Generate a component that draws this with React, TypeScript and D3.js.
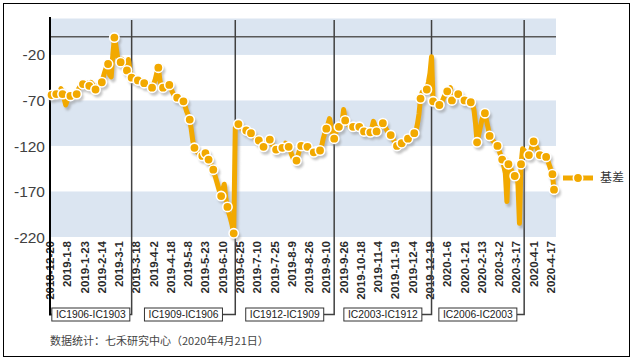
import React from 'react';
import * as d3 from 'd3';

// tick labels shown on the category axis (every 11th trading day)
const tickDates = [
  '2018-12-20', '2019-1-8', '2019-1-23', '2019-2-14', '2019-3-1', '2019-3-18',
  '2019-4-2', '2019-4-18', '2019-5-8', '2019-5-23', '2019-6-10', '2019-6-25',
  '2019-7-10', '2019-7-25', '2019-8-9', '2019-8-26', '2019-9-10', '2019-9-26',
  '2019-10-18', '2019-11-4', '2019-11-19', '2019-12-4', '2019-12-19', '2020-1-6',
  '2020-1-21', '2020-2-13', '2020-3-2', '2020-3-17', '2020-4-1', '2020-4-17'
];
const tickEvery = 11;
const yTicks = [-220, -170, -120, -70, -20];
const yMax = 20;

const contracts = ['IC1906-IC1903', 'IC1909-IC1906', 'IC1912-IC1909', 'IC2003-IC1912', 'IC2006-IC2003'];
// trading-day index where each contract rolls over
const rollDays = [52, 118, 181, 243, 302];

// 基差, one value per trading day (2018-12-20 .. 2020-4-21)
const basis = [
  -63, -64, -62, -64, -63, -61, -62, -57, -63, -68,
  -75, -70, -64, -65, -63, -64, -64, -63, -58, -55,
  -53, -52, -55, -54, -51, -54, -50, -52, -55, -58,
  -56, -53, -51, -50, -44, -38, -33, -30, -42, -44,
  -20, -1, -10, -22, -26, -28, -25, -32, -35, -37,
  -25, -38, -45, -46, -47, -48, -48, -48, -49, -50,
  -51, -50, -52, -54, -55, -56, -52, -47, -40, -34,
  -48, -55, -56, -54, -52, -53, -53, -57, -61, -64,
  -66, -67, -69, -70, -70, -71, -76, -82, -86, -91,
  -102, -115, -122, -125, -127, -128, -130, -131, -128, -128,
  -132, -135, -138, -142, -146, -152, -158, -164, -170, -175,
  -168, -162, -178, -187, -194, -200, -207, -216, -100, -96,
  -96, -99, -101, -102, -104, -103, -104, -105, -106, -108,
  -110, -112, -113, -114, -116, -118, -121, -119, -116, -114,
  -113, -116, -120, -122, -124, -123, -122, -121, -122, -120,
  -117, -119, -121, -125, -130, -134, -135, -136, -130, -124,
  -120, -121, -122, -120, -121, -123, -125, -126, -127, -127,
  -126, -125, -125, -120, -112, -106, -101, -96, -90, -98,
  -106, -112, -106, -100, -99, -99, -94, -80, -92, -95,
  -97, -98, -99, -99, -98, -99, -100, -99, -100, -102,
  -104, -104, -104, -105, -105, -100, -93, -98, -104, -102,
  -99, -97, -95, -98, -101, -104, -106, -108, -111, -114,
  -117, -120, -119, -118, -117, -116, -114, -113, -112, -111,
  -109, -108, -106, -104, -96, -85, -68, -61, -60, -59,
  -58, -50, -40, -22, -71, -72, -72, -73, -75, -75,
  -70, -66, -63, -60, -58, -56, -70, -68, -65, -64,
  -63, -65, -67, -69, -70, -71, -71, -72, -72, -74,
  -80, -95, -116, -108, -100, -92, -86, -84, -92, -100,
  -109, -112, -114, -116, -118, -120, -125, -130, -135, -142,
  -150, -181, -140, -143, -147, -150, -153, -156, -160, -205,
  -140, -123, -125, -127, -129, -130, -126, -120, -115, -118,
  -122, -126, -130, -131, -131, -132, -132, -136, -141, -146,
  -151, -168
];

// days that carry a marker
const markerDays = [
  1, 4, 8, 13, 17, 21, 25, 29, 33, 37, 41, 45, 49, 52, 56, 60, 65, 69, 72, 76,
  81, 85, 89, 92, 97, 99, 101, 104, 109, 113, 117, 120, 125, 128, 133, 136, 140,
  144, 148, 152, 157, 160, 164, 168, 172, 176, 181, 184, 188, 193, 197, 200, 204,
  208, 212, 217, 221, 224, 228, 232, 236, 240, 244, 248, 253, 256, 260, 264, 268,
  272, 277, 280, 285, 288, 292, 296, 300, 305, 308, 312, 316, 320, 321
];

const seriesName = '基差';
const footer = '数据统计：七禾研究中心（2020年4月21日）';

const ORANGE = '#F2A900';
const BAND = '#DBE5F1';

const App = () => {
  const left = 50, right = 556, top = 18.5, bottom = 237;
  const x = d3.scaleLinear().domain([0, basis.length - 1]).range([left, 554]);
  const y = d3.scaleLinear().domain([yTicks[0], yMax]).range([bottom, top]);
  const line = d3.line<number>().x((d, i) => x(i)).y(d => y(d));
  const path = line(basis) || '';

  // bands between ticks, alternate filled
  const edges = [...yTicks, yMax];
  const bands = edges.slice(0, -1).map((v, i) => ({ lo: v, hi: edges[i + 1], fill: i % 2 === 0 }));

  const boxY = 308, boxH = 13, boxW = 78;
  const boxMid = boxY + boxH / 2;
  const bounds = [left, ...rollDays.map(d => x(d))];

  return (
    <svg width={634} height={360} style={{ position: 'absolute', left: 0, top: 0 }}
      fontFamily="Arial, 'Liberation Sans', sans-serif">
      <defs>
        <filter id="blur" x="-5%" y="-5%" width="110%" height="110%">
          <feGaussianBlur stdDeviation="0.9" />
        </filter>
      </defs>
      <rect x={3.5} y={3.5} width={626} height={353} fill="#fff" stroke="#000" strokeWidth={1} />

      {bands.map((b, i) => b.fill && (
        <rect key={i} x={left} width={right - left} y={y(b.hi)} height={y(b.lo) - y(b.hi)} fill={BAND} />
      ))}

      {/* zero line */}
      <line x1={left} x2={right} y1={y(0)} y2={y(0)} stroke="#595959" strokeWidth={1.5} />

      {/* y labels */}
      {yTicks.map(t => (
        <text key={t} x={45} y={y(t)} dy="0.36em" textAnchor="end" fontSize={15.5} fill="#404040">{t}</text>
      ))}

      {/* x labels */}
      {tickDates.map((d, k) => (
        <text key={d} transform={`translate(${x(k * tickEvery)},241) rotate(-90)`} dy="0.35em"
          textAnchor="end" fontSize={11.5} fontWeight="bold" fill="#2b2b2b">{d}</text>
      ))}

      {/* rollover markers and contract boxes */}
      <path d={`M${left},17V${boxMid}H${(bounds[0] + bounds[1]) / 2 - boxW / 2}`} fill="none" stroke="#000" strokeWidth={2} />
      {rollDays.map((d, i) => {
        const cx = (bounds[i] + bounds[i + 1]) / 2;
        return (
          <path key={d} d={`M${x(d)},20V${boxMid}H${cx + boxW / 2}`} fill="none" stroke="#404040" strokeWidth={1.5} />
        );
      })}
      {contracts.map((c, i) => {
        const cx = (bounds[i] + bounds[i + 1]) / 2;
        return (
          <g key={c}>
            <rect x={cx - boxW / 2} y={boxY} width={boxW} height={boxH} fill="#fff" stroke="#333" strokeWidth={1} />
            <text x={cx} y={boxMid} dy="0.36em" textAnchor="middle" fontSize={10.3} fill="#222">{c}</text>
          </g>
        );
      })}

      {/* shadow */}
      <g transform="translate(2,3)" filter="url(#blur)" opacity={0.5}>
        <path d={path} fill="none" stroke="#8a8a8a" strokeWidth={5} strokeLinejoin="round" />
        {markerDays.map(i => <circle key={i} cx={x(i)} cy={y(basis[i])} r={5} fill="#8a8a8a" />)}
      </g>
      <path d={path} fill="none" stroke={ORANGE} strokeWidth={5} strokeLinejoin="round" />
      {markerDays.map(i => (
        <circle key={i} cx={x(i)} cy={y(basis[i])} r={4.7} fill={ORANGE} stroke="#fff" strokeWidth={1.6} />
      ))}

      {/* legend */}
      <g>
        <g transform="translate(2,3)" filter="url(#blur)" opacity={0.5}>
          <line x1={563} x2={593} y1={178} y2={178} stroke="#8a8a8a" strokeWidth={5} />
        </g>
        <line x1={563} x2={593} y1={178} y2={178} stroke={ORANGE} strokeWidth={5} />
        <circle cx={578} cy={178} r={4.7} fill={ORANGE} stroke="#fff" strokeWidth={1.6} />
        <text x={600} y={178} dy="0.36em" fontSize={12} fill="#333" fontFamily="'Noto Sans CJK SC', sans-serif">{seriesName}</text>
      </g>

      <text x={50} y={341} dy="0.36em" fontSize={11} fill="#444" fontFamily="'Noto Sans CJK SC', sans-serif">{footer}</text>
    </svg>
  );
};

export default App;
